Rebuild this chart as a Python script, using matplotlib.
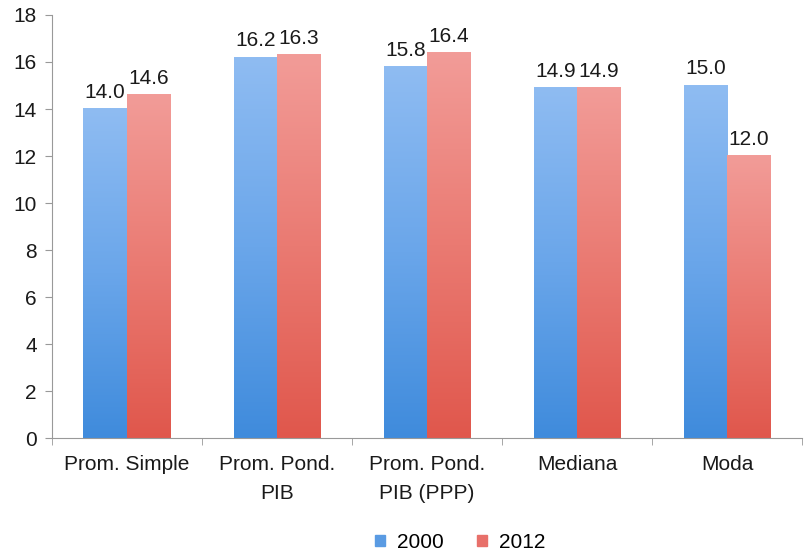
import matplotlib.pyplot as plt
import numpy as np
from matplotlib.colors import LinearSegmentedColormap
from matplotlib.patches import Patch

plt.rcParams['font.family'] = ['Liberation Sans', 'DejaVu Sans']

categorias = ['Prom. Simple', 'Prom. Pond.\nPIB', 'Prom. Pond.\nPIB (PPP)', 'Mediana', 'Moda']
serie_2000 = [14.0, 16.2, 15.8, 14.9, 15.0]
serie_2012 = [14.6, 16.3, 16.4, 14.9, 12.0]
anios = ['2000', '2012']

fig = plt.figure(figsize=(8.12, 5.54), dpi=100)
ax = fig.add_axes([0.064, 0.209, 0.924, 0.764])

x = np.arange(len(categorias))
ancho = 0.29

# degradados (claro arriba, oscuro abajo)
cmap_azul = LinearSegmentedColormap.from_list('azul', ['#3f8bdc', '#6aa6ea', '#8fbcf2'])
cmap_rojo = LinearSegmentedColormap.from_list('rojo', ['#e0574c', '#ea7a72', '#f29c98'])

barras_a = ax.bar(x - ancho / 2, serie_2000, ancho, color='none', edgecolor='none')
barras_r = ax.bar(x + ancho / 2, serie_2012, ancho, color='none', edgecolor='none')

grad = np.linspace(0, 1, 256).reshape(-1, 1)
for barras, cmap in [(barras_a, cmap_azul), (barras_r, cmap_rojo)]:
    for b in barras:
        x0, w, h = b.get_x(), b.get_width(), b.get_height()
        ax.imshow(grad, extent=[x0, x0 + w, 0, h], origin='lower', aspect='auto',
                  cmap=cmap, zorder=2)

for barras, vals in [(barras_a, serie_2000), (barras_r, serie_2012)]:
    for b, v in zip(barras, vals):
        ax.text(b.get_x() + b.get_width() / 2, v + 0.3, f'{v:.1f}', ha='center',
                va='bottom', fontsize=15, color='#1a1a1a')

ax.set_xlim(-0.5, len(categorias) - 0.5)
ax.set_ylim(0, 18)
ax.set_yticks(range(0, 19, 2))
ax.set_xticks(x)
ax.set_xticklabels(categorias, fontsize=15, color='#1a1a1a', linespacing=1.7)
ax.set_xticks(np.arange(-0.5, len(categorias)), minor=True)
ax.tick_params(axis='x', which='major', length=0, pad=12)
ax.tick_params(axis='x', which='minor', length=5, color='#999999', direction='out')
ax.tick_params(axis='y', labelsize=15, labelcolor='#1a1a1a', length=5, color='#999999', pad=6)

for s in ['top', 'right']:
    ax.spines[s].set_visible(False)
for s in ['left', 'bottom']:
    ax.spines[s].set_color('#999999')

handles = [Patch(color='#5a9be3', label=anios[0]), Patch(color='#e8706a', label=anios[1])]
fig.legend(handles=handles, loc='lower center', bbox_to_anchor=(0.567, -0.03), ncol=2,
           frameon=False, fontsize=15, handlelength=0.45, handleheight=0.45,
           columnspacing=1.6, handletextpad=0.6)

fig.savefig('out.png', dpi=100)
